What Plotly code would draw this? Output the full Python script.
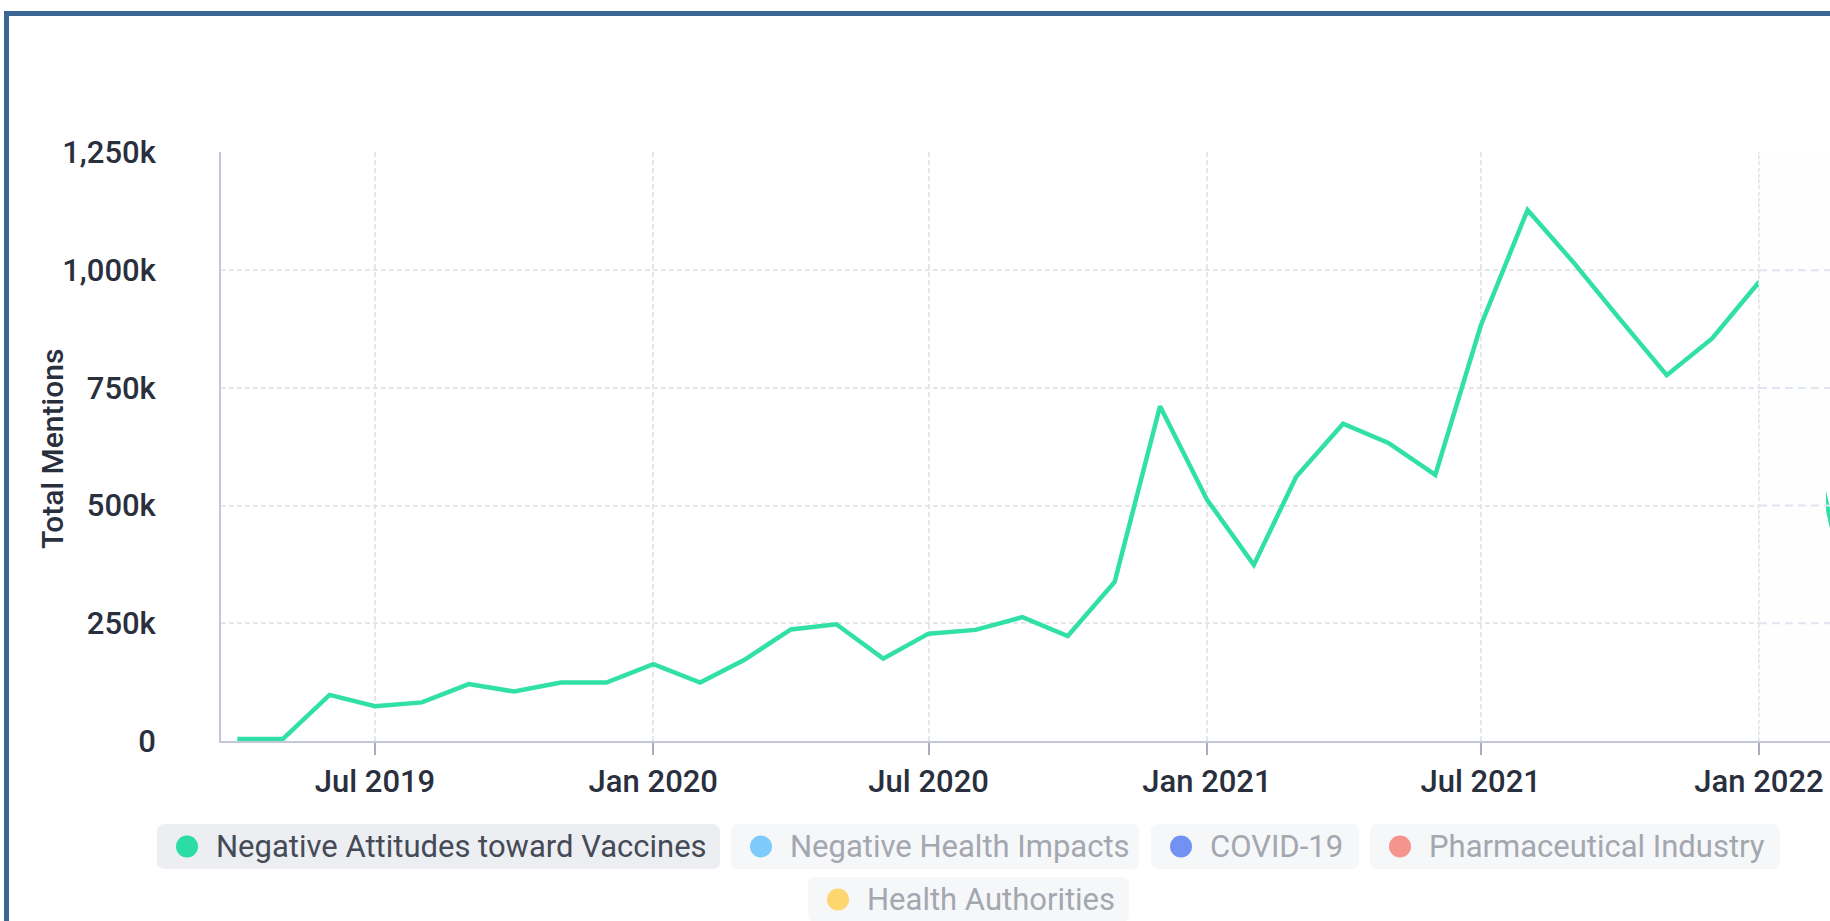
import plotly.graph_objects as go

# Monthly mention counts for the "Negative Attitudes toward Vaccines" topic
months = [
    "2019-04-01", "2019-05-01", "2019-06-01", "2019-07-01", "2019-08-01", "2019-09-01",
    "2019-10-01", "2019-11-01", "2019-12-01", "2020-01-01", "2020-02-01", "2020-03-01",
    "2020-04-01", "2020-05-01", "2020-06-01", "2020-07-01", "2020-08-01", "2020-09-01",
    "2020-10-01", "2020-11-01", "2020-12-01", "2021-01-01", "2021-02-01", "2021-03-01",
    "2021-04-01", "2021-05-01", "2021-06-01", "2021-07-01", "2021-08-01", "2021-09-01",
    "2021-10-01", "2021-11-01", "2021-12-01", "2022-01-01", "2022-02-01", "2022-03-01",
]
negative_attitudes = [
    4000, 4000, 98000, 74000, 82000, 121000,
    105000, 124000, 124000, 163000, 124000, 172000,
    237000, 248000, 175000, 228000, 236000, 263000,
    223000, 338000, 711000, 513000, 374000, 561000,
    674000, 633000, 565000, 882000, 1128000, 1014000,
    896000, 777000, 855000, 975000, 700000, 300000,
]

# Y axis ticks
y_tickvals = [0, 250000, 500000, 750000, 1000000, 1250000]
y_ticktext = ["0", "250k", "500k", "750k", "1,000k", "1,250k"]

# Legend entries (only the first one is active)
legend_names = [
    "Negative Attitudes toward Vaccines",
    "Negative Health Impacts",
    "COVID-19",
    "Pharmaceutical Industry",
    "Health Authorities",
]
legend_colors = ["#2bdca4", "#7ccbfb", "#7390f3", "#f5948c", "#fcd66e"]
legend_active = [True, False, False, False, False]

LINE_COLOR = "#30e0a6"
FONT = "Roboto"

W, H = 1830, 921
ML, MR, MT, MB = 221, 0, 152, 180
PW, PH = W - ML - MR, H - MT - MB


def px_x(px):
    return (px - ML) / PW


def px_y(py):
    return (H - MB - py) / PH


fig = go.Figure()
fig.add_trace(go.Scatter(
    x=months, y=negative_attitudes, mode="lines",
    line=dict(color=LINE_COLOR, width=4.5),
    name=legend_names[0], showlegend=False, hoverinfo="skip",
))

shapes = []
annotations = []

# Faded panel on the right side of the plot
shapes.append(dict(
    type="rect", xref="x", yref="y", x0="2022-01-01", x1="2022-02-14 07:00",
    y0=0, y1=1250000, fillcolor="rgba(254,254,255,0.985)", line=dict(width=0),
    layer="above",
))
for v in y_tickvals[1:-1]:
    shapes.append(dict(
        type="line", xref="x", yref="y", x0="2022-01-01", x1="2022-02-17",
        y0=v, y1=v, line=dict(color="#e2e4f0", width=2, dash="8px,5px"), layer="above",
    ))
shapes.append(dict(
    type="line", xref="x", yref="y", x0="2022-01-01", x1="2022-01-01",
    y0=0, y1=1250000, line=dict(color="#e6e8f0", width=2, dash="3px,3px"), layer="above",
))

# Outer frame
shapes.append(dict(
    type="rect", xref="paper", yref="paper",
    x0=px_x(6.5), x1=px_x(1860), y0=px_y(960), y1=px_y(13.5),
    line=dict(color="#3b6593", width=5), fillcolor="rgba(0,0,0,0)", layer="above",
))


def rounded_rect(x0, y0, x1, y1, r):
    # rounded rectangle path in paper coordinates from pixel bounds
    rx, ry = r / PW, r / PH
    a, b = px_x(x0), px_x(x1)
    top, bot = px_y(y0), px_y(y1)
    return (
        f"M {a+rx},{bot} L {b-rx},{bot} Q {b},{bot} {b},{bot+ry} "
        f"L {b},{top-ry} Q {b},{top} {b-rx},{top} L {a+rx},{top} "
        f"Q {a},{top} {a},{top-ry} L {a},{bot+ry} Q {a},{bot} {a+rx},{bot} Z"
    )


# Legend pill layout (pixel boxes)
pill_boxes = [
    (157, 824, 720, 869),
    (731, 824, 1139, 869),
    (1151, 824, 1359, 869),
    (1370, 824, 1780, 869),
    (808, 877, 1129, 922),
]
for name, color, active, (x0, y0, x1, y1) in zip(legend_names, legend_colors, legend_active, pill_boxes):
    shapes.append(dict(
        type="path", xref="paper", yref="paper", path=rounded_rect(x0, y0, x1, y1, 8),
        fillcolor="#eceef2" if active else "#f6f7f9", line=dict(width=0), layer="above",
    ))
    cy = (y0 + y1) / 2
    cx = x0 + 30
    rr = 11
    shapes.append(dict(
        type="circle", xref="paper", yref="paper",
        x0=px_x(cx - rr), x1=px_x(cx + rr), y0=px_y(cy + rr), y1=px_y(cy - rr),
        fillcolor=color, line=dict(width=0), layer="above",
    ))
    annotations.append(dict(
        xref="paper", yref="paper", x=px_x(cx + 27), y=px_y(cy),
        xanchor="left", yanchor="middle", showarrow=False, text=name,
        font=dict(family=FONT, size=31, color="#454a57" if active else "#a3a7b0"),
    ))

# Y axis title
annotations.append(dict(
    xref="paper", yref="paper", x=px_x(52), y=px_y(449), xanchor="center", yanchor="middle",
    showarrow=False, text="Total Mentions", textangle=-90,
    font=dict(family=FONT, size=30, color="#2a2f3e", weight=500),
))

fig.update_layout(
    width=W, height=H,
    margin=dict(l=ML, r=MR, t=MT, b=MB, pad=0),
    paper_bgcolor="white", plot_bgcolor="white",
    showlegend=False,
    shapes=shapes, annotations=annotations,
    xaxis=dict(
        type="date",
        range=["2019-03-21 05:00", "2022-02-16 22:00"],
        tick0="2019-07-01", dtick="M6", tickformat="%b %Y",
        ticks="outside", ticklen=12, tickwidth=2, tickcolor="#a9adc2",
        ticklabelstandoff=0,
        tickfont=dict(family=FONT, size=31, color="#2a2f3e", weight=500),
        showgrid=True, gridcolor="#e4e6eb", gridwidth=1.5, griddash="5px,3px",
        showline=True, linecolor="#c3c6d8", linewidth=2,
        zeroline=False,
    ),
    yaxis=dict(
        range=[0, 1251000],
        tickvals=y_tickvals, ticktext=y_ticktext,
        ticks="", ticklabelstandoff=57,
        tickfont=dict(family=FONT, size=31, color="#2a2f3e", weight=500),
        showgrid=True, gridcolor="#e4e6eb", gridwidth=1.5, griddash="5px,3px",
        showline=True, linecolor="#c3c6d8", linewidth=2,
        zeroline=False,
    ),
)

fig.write_html("out.html", config={"displayModeBar": False})
